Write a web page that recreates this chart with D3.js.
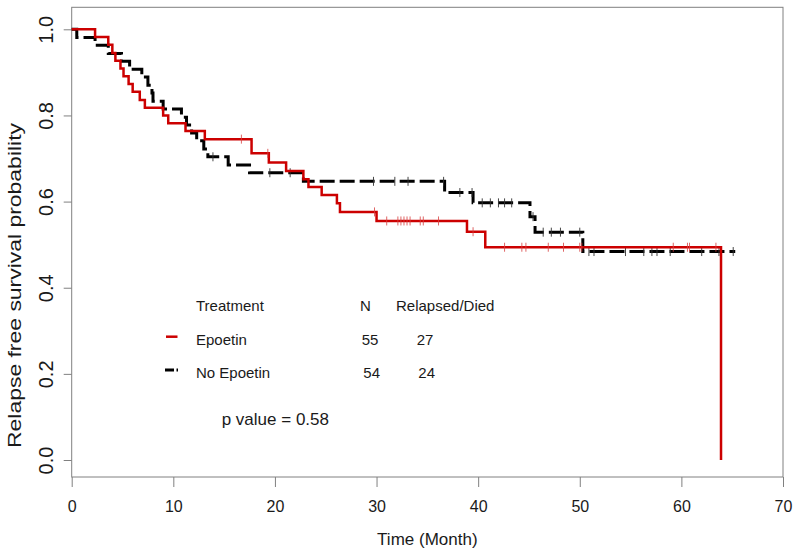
<!DOCTYPE html>
<html>
<head>
<meta charset="utf-8">
<script src="https://cdn.jsdelivr.net/npm/d3@7"></script>
<style>
  html, body { margin: 0; padding: 0; background: #fff; }
  svg { display: block; font-family: "Liberation Sans", Arial, Helvetica, sans-serif; }
</style>
</head>
<body>
<svg id="chart" width="800" height="557"></svg>
<script>
// ---- data ----
const xTicks = [0, 10, 20, 30, 40, 50, 60, 70];
const yTicks = [0.0, 0.2, 0.4, 0.6, 0.8, 1.0];

// Epoetin (red, solid)
const epoTimes = [0, 2.3, 3.6, 4.0, 4.3, 4.8, 5.1, 5.6, 6.0, 6.7, 7.2, 9.0, 9.5, 11.2, 13.1, 17.7, 19.4, 21.1, 22.8, 23.3, 24.6, 26.1, 26.4, 30.0, 38.9, 40.7, 63.9];
const epoSurv  = [1.0, 0.982, 0.964, 0.945, 0.927, 0.909, 0.891, 0.873, 0.855, 0.836, 0.818, 0.800, 0.782, 0.764, 0.745, 0.712, 0.691, 0.671, 0.652, 0.634, 0.615, 0.596, 0.576, 0.555, 0.530, 0.494, 0.0];
const epoCensor = [16.7, 19.3, 29.8, 31.0, 32.1, 32.4, 32.7, 33.0, 33.3, 34.3, 34.6, 36.1, 39.5, 42.6, 44.3, 44.7, 46.9, 48.4, 50.0, 50.2, 59.2, 60.6, 60.8, 63.4];

// No Epoetin (black, dashed)
const noTimes = [0, 0.5, 2.3, 3.6, 4.9, 5.7, 6.9, 7.5, 7.9, 8.0, 9.0, 10.8, 11.3, 11.8, 12.3, 13.0, 13.4, 15.4, 17.5, 22.8, 36.7, 39.5, 45.1, 45.6, 50.3];
const noSurv  = [1.0, 0.981, 0.963, 0.944, 0.926, 0.907, 0.889, 0.870, 0.852, 0.833, 0.815, 0.796, 0.778, 0.759, 0.741, 0.722, 0.704, 0.685, 0.667, 0.647, 0.621, 0.597, 0.565, 0.529, 0.484];
const noEnd = 65.3;
const noCensor = [13.9, 19.5, 21.5, 29.7, 31.8, 33.1, 36.6, 38.2, 39.4, 40.4, 41.2, 42.0, 42.6, 43.3, 45.4, 46.4, 47.2, 48.1, 50.0, 50.9, 51.4, 54.5, 56.3, 57.1, 57.6, 58.9, 62.0, 63.7, 65.1];

const legendHeader = ["Treatment", "N", "Relapsed/Died"];
const legendRows = [
  { label: "Epoetin", n: "55", events: "27" },
  { label: "No Epoetin", n: "54", events: "24" }
];
const pText = "p value = 0.58";

// ---- layout ----
const svg = d3.select("#chart");
const x = d3.scaleLinear().domain([0, 70]).range([71.7, 783]);
const y = d3.scaleLinear().domain([0, 1]).range([460, 29.3]);
const frame = { left: 71.7, right: 783, top: 7.3, bottom: 477 };
const RED = "#cc0000";
const TXT = "#1a1a1a";
const GRAY = "#808080";

// frame
svg.append("rect")
  .attr("x", frame.left).attr("y", frame.top)
  .attr("width", frame.right - frame.left).attr("height", frame.bottom - frame.top)
  .attr("fill", "none").attr("stroke", GRAY).attr("stroke-width", 1);

// x axis
const xAxis = d3.axisBottom(x).tickValues(xTicks).tickFormat(d3.format("d")).tickSize(10).tickPadding(4);
const gx = svg.append("g").attr("transform", `translate(0,${frame.bottom})`).call(xAxis);
gx.select(".domain").remove();
gx.selectAll(".tick line").attr("stroke", GRAY);
gx.selectAll(".tick text").attr("font-size", 16).attr("fill", TXT).attr("font-family", "Liberation Sans, Arial, sans-serif")
  .attr("y", 0).attr("dy", null).attr("transform", "translate(0,35.3)");

// y axis
const yAxis = d3.axisLeft(y).tickValues(yTicks).tickFormat(d3.format(".1f")).tickSize(8).tickPadding(0);
const gy = svg.append("g").attr("transform", `translate(${frame.left},0)`).call(yAxis);
gy.select(".domain").remove();
gy.selectAll(".tick line").attr("stroke", GRAY);
gy.selectAll(".tick text")
  .attr("font-size", 20).attr("fill", TXT).attr("font-family", "Liberation Sans, Arial, sans-serif")
  .attr("x", null).attr("dy", null)
  .attr("text-anchor", "middle")
  .attr("transform", `translate(${53.3 - frame.left},0) rotate(-90)`);

// axis titles
svg.append("text")
  .attr("x", (frame.left + frame.right) / 2).attr("y", 544.5)
  .attr("text-anchor", "middle").attr("font-size", 17).attr("fill", TXT)
  .text("Time (Month)");

svg.append("text")
  .attr("transform", "translate(21.3,285.5) rotate(-90)")
  .attr("text-anchor", "middle").attr("font-size", 18).attr("fill", TXT)
  .attr("textLength", 325).attr("lengthAdjust", "spacingAndGlyphs")
  .text("Relapse free survival probability");

// curves
function stepPoints(times, surv, endT) {
  const pts = times.map((t, i) => [t, surv[i]]);
  if (endT !== undefined) pts.push([endT, surv[surv.length - 1]]);
  return pts;
}
function survAt(times, surv, t) {
  let s = surv[0];
  for (let i = 0; i < times.length; i++) { if (times[i] <= t) s = surv[i]; }
  return s;
}
const line = d3.line().x(d => x(d[0])).y(d => y(d[1])).curve(d3.curveStepAfter);

// censor marks
function censorMarks(times, surv, cens, color, op) {
  svg.append("g").selectAll("line").data(cens).join("line")
    .attr("x1", d => x(d)).attr("x2", d => x(d))
    .attr("y1", d => y(survAt(times, surv, d)) - 4.5)
    .attr("y2", d => y(survAt(times, surv, d)) + 4.5)
    .attr("stroke", color).attr("stroke-width", 1).attr("opacity", op);
}

svg.append("path")
  .attr("d", line(stepPoints(noTimes, noSurv, noEnd)))
  .attr("fill", "none").attr("stroke", "#000").attr("stroke-width", 3)
  .attr("stroke-dasharray", "15,5");
censorMarks(noTimes, noSurv, noCensor, "#333", 0.9);

svg.append("path")
  .attr("d", line(stepPoints(epoTimes, epoSurv)))
  .attr("fill", "none").attr("stroke", RED).attr("stroke-width", 2.5);
censorMarks(epoTimes, epoSurv, epoCensor, "#d84040", 0.8);

// legend
const hdrX = [196, 360, 396];
legendHeader.forEach((t, i) => {
  svg.append("text").attr("x", hdrX[i]).attr("y", 310.7)
    .attr("font-size", 15).attr("fill", TXT).text(t);
});
const rowY = [345, 378];
const lineY = [336.7, 370];
const nX = [361.7, 363.3];
const eX = [416.7, 418.3];
legendRows.forEach((r, i) => {
  svg.append("text").attr("x", 196).attr("y", rowY[i]).attr("font-size", 15).attr("fill", TXT).text(r.label);
  svg.append("text").attr("x", nX[i]).attr("y", rowY[i]).attr("font-size", 15).attr("fill", TXT).text(r.n);
  svg.append("text").attr("x", eX[i]).attr("y", rowY[i]).attr("font-size", 15).attr("fill", TXT).text(r.events);
});
svg.append("line").attr("x1", 166).attr("x2", 177.5).attr("y1", lineY[0]).attr("y2", lineY[0])
  .attr("stroke", RED).attr("stroke-width", 2.5);
svg.append("line").attr("x1", 165).attr("x2", 178).attr("y1", lineY[1]).attr("y2", lineY[1])
  .attr("stroke", "#000").attr("stroke-width", 3).attr("stroke-dasharray", "9,2.5,1.5,20");

svg.append("text").attr("x", 221.7).attr("y", 424.7).attr("font-size", 17).attr("fill", TXT).text(pText);
</script>
</body>
</html>
